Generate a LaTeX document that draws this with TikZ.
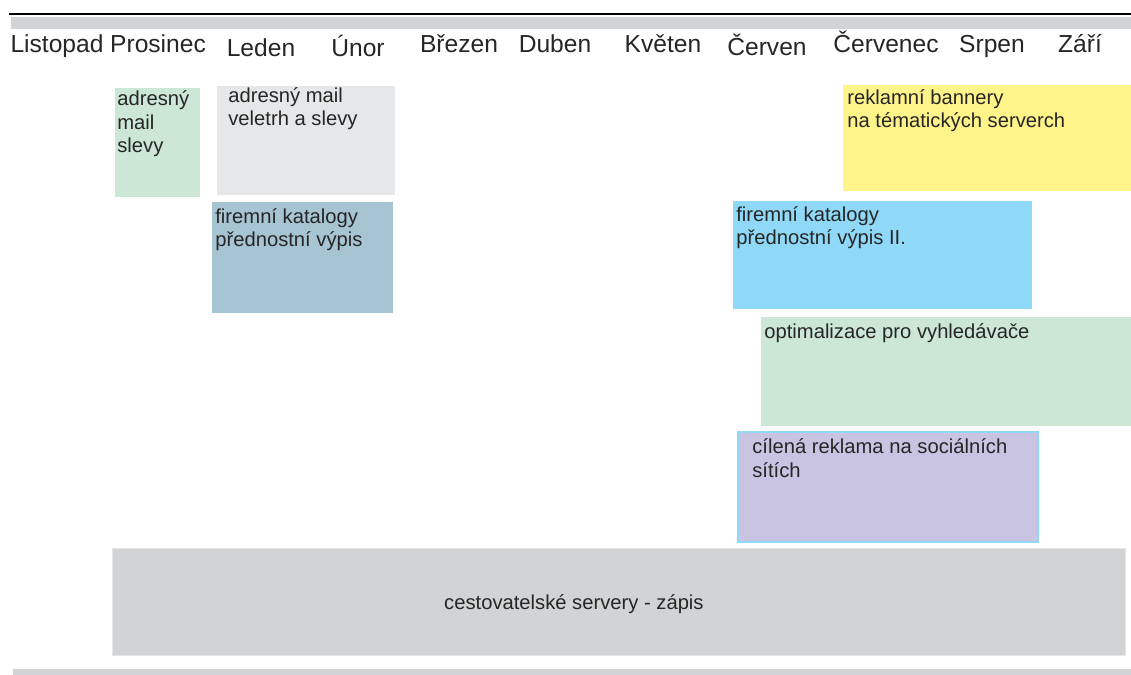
\documentclass[tikz,border=0pt]{standalone}
\usepackage{fontspec}
\setmainfont{Liberation Sans}
\usepackage{xcolor}
\definecolor{barGray}{HTML}{D1D3D4}
\definecolor{mailGreen}{HTML}{CCE7D5}
\definecolor{mailGray}{HTML}{E6E7E8}
\definecolor{katBlue}{HTML}{A7C4D3}
\definecolor{banYellow}{HTML}{FFF489}
\definecolor{katSky}{HTML}{8FD8F7}
\definecolor{socLilac}{HTML}{C8C4E1}
\definecolor{edgeGray}{HTML}{E4E5E6}

\begin{document}
\begin{tikzpicture}[x=0.02cm, y=-0.02cm,
    month/.style={anchor=base, inner sep=0, text=black!85,
        font=\fontsize{14}{16}\selectfont},
    slot/.style={anchor=north west, inner sep=0, outer sep=0},
    slottext/.style={anchor=base west, align=left, inner sep=0, text=black!85,
        font=\fontsize{11.5}{13.4}\selectfont}]
    \useasboundingbox (0,0) rectangle (1131,675);

    % timeline head
    \draw[line width=0.04cm] (9,14) -- (1131,14);
    \fill[barGray] (11,17) rectangle (1131,29);
    \foreach \m/\x/\y [count=\i] in {Listopad/57/53, Prosinec/158/53, Leden/261/57,
            Únor/358/57, Březen/459/53, Duben/555/53, Květen/663/53, Červen/767/56,
            Červenec/886/53, Srpen/992/53, Září/1080/53}
        \node[month] (month\i) at (\x,\y) {\m};

    % activities (text anchored at the base of its last line)
    \node[slot, fill=mailGreen, minimum width=1.70cm, minimum height=2.18cm] (mailA) at (115,88) {};
    \node[slottext] (mailAtxt) at (117,153) {adresný\\mail\\slevy};

    \node[slot, fill=mailGray, minimum width=3.56cm, minimum height=2.18cm] (mailB) at (217,86) {};
    \node[slottext] (mailBtxt) at (228,126) {adresný mail\\veletrh a slevy};

    \node[slot, fill=katBlue, minimum width=3.62cm, minimum height=2.22cm] (katA) at (212,202) {};
    \node[slottext] (katAtxt) at (215,247) {firemní katalogy\\přednostní výpis};

    \node[slot, fill=banYellow, minimum width=5.76cm, minimum height=2.12cm] (banner) at (843,85) {};
    \node[slottext] (bannertxt) at (847,128) {reklamní bannery\\na tématických serverch};

    \node[slot, fill=katSky, minimum width=5.98cm, minimum height=2.16cm] (katB) at (733,201) {};
    \node[slottext] (katBtxt) at (736,245) {firemní katalogy\\přednostní výpis II.};

    \node[slot, fill=mailGreen, minimum width=7.40cm, minimum height=2.18cm] (seo) at (761,317) {};
    \node[slottext] (seotxt) at (764,338) {optimalizace pro vyhledávače};

    \node[slot, fill=socLilac, draw=katSky, line width=0.03cm, minimum width=6.00cm, minimum height=2.20cm] (social) at (738,432) {};
    \node[slottext] (socialtxt) at (752,477) {cílená reklama na sociálních\\sítích};

    \node[slot, fill=barGray, draw=edgeGray, line width=0.02cm, minimum width=20.28cm, minimum height=2.16cm] (travel) at (112,548) {};
    \node[slottext, anchor=center] (traveltxt) at ([xshift=-0.9cm, yshift=-0.04cm]travel.center) {cestovatelské servery - zápis};

    % timeline foot
    \fill[barGray] (13,669) rectangle (1131,675);
\end{tikzpicture}
\end{document}
